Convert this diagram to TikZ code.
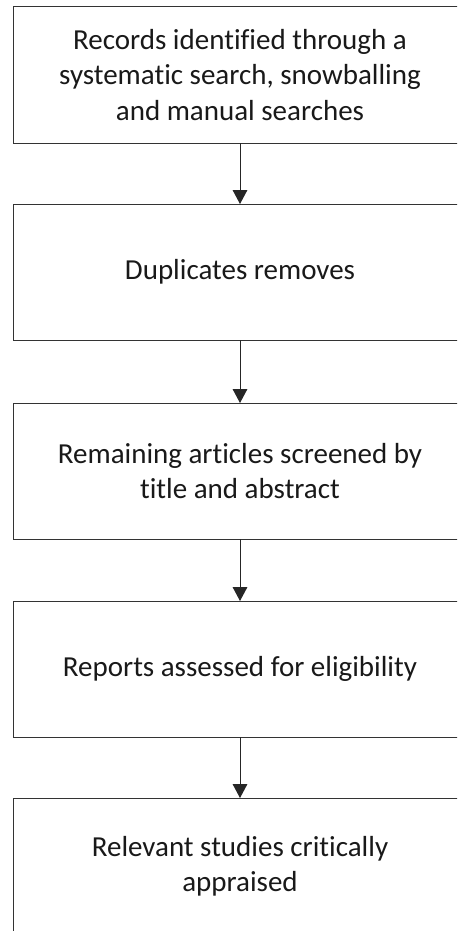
\documentclass[tikz,border=0pt]{standalone}
\usepackage{fontspec}
\setmainfont{Carlito}[Ligatures=NoCommon]
\usetikzlibrary{arrows.meta}
\begin{document}
\begin{tikzpicture}[x=0.75pt,y=-0.75pt,
  stepbox/.style={draw=black!80, line width=0.75pt, rectangle, outer sep=0pt,
    minimum width=340.5pt, minimum height=102pt, align=center,
    font=\fontsize{21.75pt}{26.5pt}\selectfont, text=black!90},
  flow/.style={draw=black!85, line width=0.75pt,
    -{Triangle[width=11pt,length=10.5pt]}}]
  \useasboundingbox (0,0) rectangle (457,931);
  \clip (0,0) rectangle (457,931);
  \fill[white] (0,0) rectangle (457,931);
  % process boxes, top to bottom
  \node[stepbox] (records)  at (240,75)  {Records identified through a\\systematic search, snowballing\\and manual searches};
  \node[stepbox] (dups)     at (240,272) {Duplicates removes};
  \node[stepbox] (screen)   at (240,471) {Remaining articles screened by\\title and abstract};
  \node[stepbox] (elig)     at (240,669) {Reports assessed for eligibility};
  \node[stepbox] (appraise) at (240,866) {Relevant studies critically\\appraised};
  % connectors
  \draw[flow] (records.south) -- (dups.north);
  \draw[flow] (dups.south) -- (screen.north);
  \draw[flow] (screen.south) -- (elig.north);
  \draw[flow] (elig.south) -- (appraise.north);
\end{tikzpicture}
\end{document}
